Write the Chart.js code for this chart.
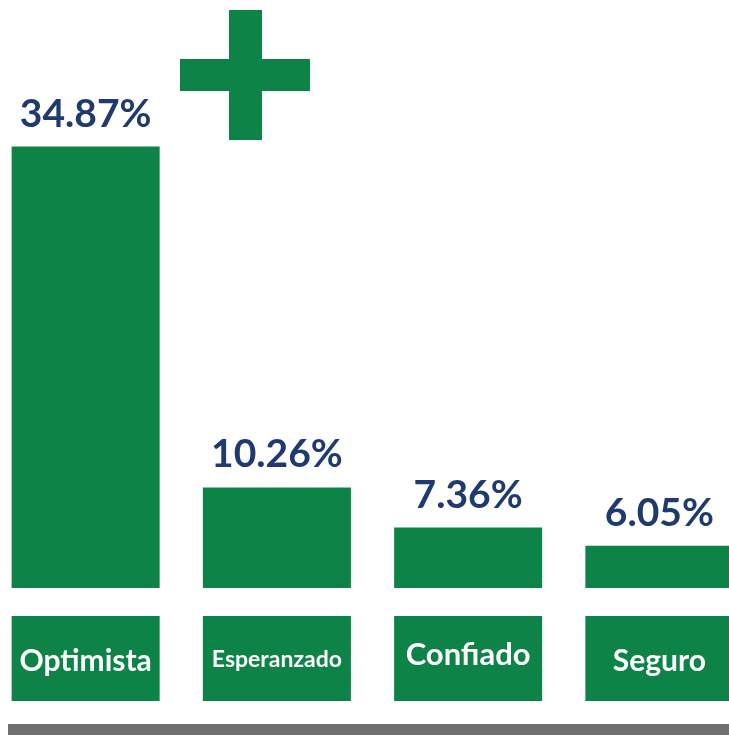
<!DOCTYPE html>
<html lang="es">
<head>
<meta charset="UTF-8">
<title>Optimista</title>
<script src="https://cdn.jsdelivr.net/npm/chart.js@4"></script>
<style>
  html, body { margin: 0; padding: 0; background: #ffffff; overflow: hidden; }
  body { width: 729px; height: 735px; position: relative; }
  #wrap { position: absolute; left: -10px; top: 0; width: 765px; height: 735px; }
  .plus { position: absolute; background: #0d8348; }
  #footer { position: absolute; left: 8px; top: 724px; width: 721px; height: 11px; background: #707071; }
</style>
</head>
<body>
<div class="plus" style="left:229px;top:10px;width:33px;height:130px;"></div>
<div class="plus" style="left:180px;top:59px;width:130px;height:32px;"></div>
<div id="wrap"><canvas id="chart"></canvas></div>
<div id="footer"></div>
<script>
// データ
const categories = ["Optimista", "Esperanzado", "Confiado", "Seguro"];
const percentages = [34.87, 10.26, 7.36, 6.05];
const valueLabels = ["34.87%", "10.26%", "7.36%", "6.05%"];

// スタイル
const green = "#0d8348";
const navy = "#1f3a6e";
const labelFontSizes = [30, 23, 31, 30];
const labelOffsets = [2, 1, -4, 2];

// 値ラベルとカテゴリーボックス
const decorPlugin = {
  id: "decor",
  afterDatasetsDraw(chart) {
    const ctx = chart.ctx;
    const meta = chart.getDatasetMeta(0);
    const area = chart.chartArea;
    ctx.save();
    meta.data.forEach(function (bar, i) {
      // 値
      ctx.fillStyle = navy;
      ctx.font = "bold 39px Lato";
      ctx.textAlign = "center";
      ctx.textBaseline = "alphabetic";
      ctx.fillText(valueLabels[i], bar.x, bar.y - 20);

      // カテゴリー
      const w = bar.width;
      const top = area.bottom + 28;
      ctx.fillStyle = green;
      ctx.fillRect(bar.x - w / 2, top, w, 85);
      ctx.fillStyle = "#ffffff";
      ctx.font = "bold " + labelFontSizes[i] + "px Lato";
      ctx.textBaseline = "middle";
      ctx.fillText(categories[i], bar.x, top + 43 + labelOffsets[i]);
    });
    ctx.restore();
  },
};

const chart = new Chart(document.getElementById("chart"), {
  type: "bar",
  data: {
    labels: categories,
    datasets: [
      {
        data: percentages,
        backgroundColor: green,
        borderWidth: 0,
        categoryPercentage: 1,
        barPercentage: 0.774,
      },
    ],
  },
  options: {
    responsive: true,
    maintainAspectRatio: false,
    animation: false,
    events: [],
    layout: {
      padding: { top: 75.5, bottom: 147, left: 0, right: 0 },
    },
    plugins: {
      legend: { display: false },
      tooltip: { enabled: false },
    },
    scales: {
      x: { display: false },
      y: { display: false, min: 3, max: 40 },
    },
  },
  plugins: [decorPlugin],
});
</script>
</body>
</html>
